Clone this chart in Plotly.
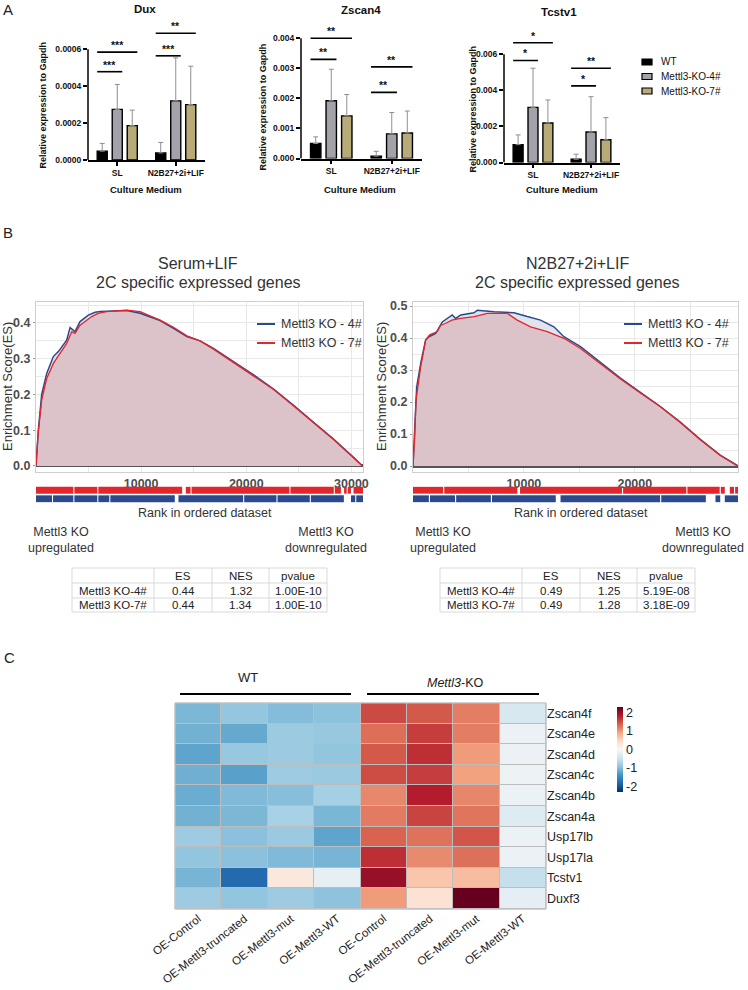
import plotly.graph_objects as go

W, H = 748, 990
FONT = "Liberation Sans, Arial, Helvetica, sans-serif"


def fx(p):
    return p / W


def fy(p):
    return 1 - p / H


def axn(letter, i):
    return letter if i == 1 else f"{letter}{i}"


# ======================= Panel A data =======================
conditions = ["SL", "N2B27+2i+LIF"]
genotypes = ["WT", "Mettl3-KO-4#", "Mettl3-KO-7#"]
genotype_colors = ["#000000", "#a2a2a8", "#b8ab78"]

dux_wt = [0.000048, 0.000038]
dux_ko4 = [0.000274, 0.000320]
dux_ko7 = [0.000186, 0.000300]
dux_wt_sd = [0.000042, 0.000057]
dux_ko4_sd = [0.000135, 0.000233]
dux_ko7_sd = [0.000084, 0.000208]

zscan4_wt = [0.00050, 0.00008]
zscan4_ko4 = [0.00192, 0.00082]
zscan4_ko7 = [0.00142, 0.00085]
zscan4_wt_sd = [0.00022, 0.00016]
zscan4_ko4_sd = [0.00105, 0.00071]
zscan4_ko7_sd = [0.00071, 0.00073]

tcstv1_wt = [0.00099, 0.00018]
tcstv1_ko4 = [0.00306, 0.00169]
tcstv1_ko7 = [0.00219, 0.00126]
tcstv1_wt_sd = [0.00054, 0.00028]
tcstv1_ko4_sd = [0.00217, 0.00196]
tcstv1_ko7_sd = [0.00128, 0.00123]

# (condition index, compared genotype index, bracket height, label)
dux_sig = [(0, 1, 0.000478, "***"), (0, 2, 0.000584, "***"),
           (1, 1, 0.000564, "***"), (1, 2, 0.000686, "**")]
zscan4_sig = [(0, 1, 0.00330, "**"), (0, 2, 0.00400, "**"),
              (1, 1, 0.00220, "**"), (1, 2, 0.00305, "**")]
tcstv1_sig = [(0, 1, 0.00566, "*"), (0, 2, 0.00664, "*"),
              (1, 1, 0.00425, "*"), (1, 2, 0.00523, "**")]

dux_ticks = [0, 0.0002, 0.0004, 0.0006]
zscan4_ticks = [0, 0.001, 0.002, 0.003, 0.004]
tcstv1_ticks = [0, 0.002, 0.004, 0.006]

# ======================= Panel B data =======================
sl_rank_ko4 = [0, 220, 540, 1020, 1650, 2130, 2920, 3240, 3710, 4190, 4980, 5620, 6100, 7340, 8630,
               9900, 11800, 13080, 14350, 15600, 16880, 18780, 20700, 22600, 24500, 26400, 28300, 30200, 31050]
sl_es_ko4 = [0, 0.10, 0.20, 0.259, 0.306, 0.32, 0.352, 0.387, 0.376, 0.404, 0.422, 0.43, 0.432, 0.433, 0.435,
             0.427, 0.407, 0.385, 0.362, 0.35, 0.329, 0.292, 0.255, 0.215, 0.17, 0.122, 0.075, 0.024, 0]
sl_rank_ko7 = [0, 200, 540, 1020, 1650, 2300, 2920, 3400, 3710, 4190, 5300, 5900, 6700, 8630, 9900,
               11800, 13080, 14350, 15600, 16880, 18780, 20700, 22600, 24500, 26400, 28300, 30200, 31050]
sl_es_ko7 = [0, 0.09, 0.184, 0.245, 0.287, 0.315, 0.343, 0.376, 0.371, 0.394, 0.418, 0.427, 0.432, 0.436, 0.432,
             0.408, 0.388, 0.364, 0.350, 0.327, 0.290, 0.253, 0.214, 0.168, 0.121, 0.074, 0.023, 0]

n2_rank_ko4 = [0, 150, 330, 690, 1140, 1440, 2040, 2640, 3540, 3850, 4300, 5500, 5800, 7300, 9100, 10300,
               11500, 12700, 13600, 15100, 16900, 18700, 20500, 22300, 24100, 25900, 27700, 29300]
n2_es_ko4 = [0, 0.10, 0.247, 0.32, 0.394, 0.404, 0.414, 0.45, 0.472, 0.461, 0.472, 0.479, 0.487, 0.482, 0.479,
             0.467, 0.456, 0.435, 0.404, 0.373, 0.325, 0.275, 0.23, 0.186, 0.137, 0.083, 0.034, 0]
n2_rank_ko7 = [0, 150, 270, 690, 1140, 1500, 2190, 2500, 2950, 3500, 4300, 5500, 6700, 8500, 9400, 10600,
               12100, 13600, 15100, 16900, 18700, 20500, 22300, 24100, 25900, 27700, 29300]
n2_es_ko7 = [0, 0.09, 0.206, 0.31, 0.394, 0.41, 0.42, 0.44, 0.446, 0.456, 0.461, 0.467, 0.477, 0.477, 0.456,
             0.435, 0.42, 0.399, 0.367, 0.32, 0.272, 0.228, 0.185, 0.136, 0.082, 0.033, 0]

sl_n_genes = 31100
n2_n_genes = 29300
# rank intervals without hits (white gaps in the hit bars)
sl_gaps_ko7 = [(3550, 3650), (5830, 5930), (13900, 14250), (14700, 14800), (24100, 24200),
               (28320, 28420), (29000, 29300), (29550, 29650), (29950, 30200)]
sl_gaps_ko4 = [(1520, 1620), (3550, 3650), (5830, 5930), (6970, 7070), (13200, 13550), (19700, 19800),
               (22870, 22970), (26040, 26140), (29280, 29960), (30360, 30460)]
n2_gaps_ko7 = [(2720, 2820), (9400, 9650), (18840, 18940), (24640, 24740), (27650, 27750),
               (28110, 28560), (28940, 29040)]
n2_gaps_ko4 = [(1430, 1530), (3790, 3890), (7020, 7120), (12870, 13300), (22280, 22380),
               (26400, 27270), (27700, 28110)]

table_header = ["", "ES", "NES", "pvalue"]
table_rows = ["Mettl3 KO-4#", "Mettl3 KO-7#"]
sl_es = ["0.44", "0.44"]
sl_nes = ["1.32", "1.34"]
sl_pvalue = ["1.00E-10", "1.00E-10"]
n2_es = ["0.49", "0.49"]
n2_nes = ["1.25", "1.28"]
n2_pvalue = ["5.19E-08", "3.18E-09"]

# ======================= Panel C data =======================
heat_genes = ["Zscan4f", "Zscan4e", "Zscan4d", "Zscan4c", "Zscan4b", "Zscan4a",
              "Usp17lb", "Usp17la", "Tcstv1", "Duxf3"]
heat_samples = ["OE-Control", "OE-Mettl3-truncated", "OE-Mettl3-mut", "OE-Mettl3-WT",
                "OE-Control", "OE-Mettl3-truncated", "OE-Mettl3-mut", "OE-Mettl3-WT"]
heat_z = [
    [-1.05, -0.90, -1.00, -0.95, 1.52, 1.42, 1.18, -0.38],
    [-1.10, -1.18, -0.85, -0.88, 1.28, 1.60, 1.18, -0.15],
    [-1.22, -0.88, -0.85, -0.92, 1.42, 1.70, 0.98, -0.15],
    [-1.12, -1.25, -0.83, -0.86, 1.50, 1.60, 0.94, -0.12],
    [-1.15, -1.02, -0.98, -0.78, 1.12, 1.82, 1.13, -0.15],
    [-1.10, -1.05, -0.75, -1.06, 1.20, 1.56, 1.24, -0.30],
    [-0.83, -0.96, -0.86, -1.22, 1.35, 1.26, 1.45, -0.15],
    [-0.92, -0.96, -1.02, -1.08, 1.70, 1.10, 1.27, -0.15],
    [-1.07, -1.80, 0.25, -0.20, 2.00, 0.65, 0.72, -0.55],
    [-0.83, -0.92, -0.83, -0.94, 0.98, 0.35, 2.30, -0.22],
]
heat_ticks = [-2, -1, 0, 1, 2]

# ======================= Build figure =======================
fig = go.Figure()
layout = dict(template="none", width=W, height=H, margin=dict(l=0, r=0, t=0, b=0, autoexpand=False),
              paper_bgcolor="white", plot_bgcolor="white", showlegend=False, barmode="group",
              bargap=0.23, bargroupgap=0.33, font=dict(family=FONT, color="#111"))
shapes, annotations = [], []


def ptext(x, y, text, size, color="#222", weight="normal", xanchor="center", angle=0, align="center"):
    annotations.append(dict(x=fx(x), y=fy(y), xref="paper", yref="paper", text=text, showarrow=False,
                            xanchor=xanchor, yanchor="middle", textangle=angle, align=align,
                            font=dict(size=size, family=FONT, color=color, weight=weight)))


BARGAP, BGG = 0.23, 0.33
gw = 1 - BARGAP
slot = gw / 3


def bar_left(k):
    return -gw / 2 + slot * k + slot * BGG / 2


def bar_right(k):
    return -gw / 2 + slot * (k + 1) - slot * BGG / 2


panels_a = [
    dict(title="Dux", means=[dux_wt, dux_ko4, dux_ko7], sds=[dux_wt_sd, dux_ko4_sd, dux_ko7_sd],
         sig=dux_sig, ticks=dux_ticks, fmt=".4f", ymax=0.00072, xd=(88, 205), yd=(27, 160),
         ytitle_x=43, title_x=145, title_y=9, xtitle_x=146),
    dict(title="Zscan4", means=[zscan4_wt, zscan4_ko4, zscan4_ko7], sds=[zscan4_wt_sd, zscan4_ko4_sd, zscan4_ko7_sd],
         sig=zscan4_sig, ticks=zscan4_ticks, fmt=".3f", ymax=0.0042, xd=(301, 422), yd=(32.3, 158.5),
         ytitle_x=263, title_x=361, title_y=10, xtitle_x=360),
    dict(title="Tcstv1", means=[tcstv1_wt, tcstv1_ko4, tcstv1_ko7], sds=[tcstv1_wt_sd, tcstv1_ko4_sd, tcstv1_ko7_sd],
         sig=tcstv1_sig, ticks=tcstv1_ticks, fmt=".3f", ymax=0.0072, xd=(504, 620), yd=(32.7, 162.5),
         ytitle_x=473, title_x=559, title_y=12, xtitle_x=562),
]

bold = dict(family=FONT, weight="bold", color="#111")
for i, p in enumerate(panels_a):
    ax = i + 1
    xs, ys = axn("x", ax), axn("y", ax)
    for k in range(3):
        fig.add_trace(go.Bar(
            x=[0, 1], y=p["means"][k], name=genotypes[k], offsetgroup=str(k),
            marker=dict(color=genotype_colors[k], line=dict(color="black", width=1.4)),
            error_y=dict(type="data", symmetric=False, array=p["sds"][k], arrayminus=[0, 0],
                         color="#8f8f8f", thickness=1, width=2.5),
            xaxis=xs, yaxis=ys, showlegend=False))
    layout[axn("xaxis", ax)] = dict(domain=[fx(p["xd"][0]), fx(p["xd"][1])], range=[-0.5, 1.5], anchor=ys,
                                    tickvals=[0, 1], ticktext=conditions, showline=True, linecolor="black",
                                    linewidth=1.5, ticks="outside", ticklen=4, tickwidth=1.5, tickcolor="black",
                                    tickfont=dict(size=8.5, **bold), showgrid=False, zeroline=False,
                                    automargin=False)
    layout[axn("yaxis", ax)] = dict(domain=[fy(p["yd"][1]), fy(p["yd"][0])], range=[0, p["ymax"]], anchor=xs,
                                    tickvals=p["ticks"], tickformat=p["fmt"], ticks="outside", ticklen=4,
                                    tickwidth=1.5, tickcolor="black", showline=False, showgrid=False,
                                    zeroline=False, tickfont=dict(size=8.5, **bold), automargin=False)
    shapes.append(dict(type="line", xref=f"{xs} domain", yref=ys, x0=0, x1=0, y0=0, y1=p["ticks"][-1],
                       line=dict(color="black", width=1.5)))
    for (c, k, lvl, lab) in p["sig"]:
        x0, x1 = c + bar_left(0), c + bar_right(k)
        shapes.append(dict(type="line", xref=xs, yref=ys, x0=x0, x1=x1, y0=lvl, y1=lvl,
                           line=dict(color="black", width=1.6)))
        annotations.append(dict(x=(x0 + x1) / 2, y=lvl, xref=xs, yref=ys, text=lab, showarrow=False,
                                xanchor="center", yanchor="bottom", yshift=-1, font=dict(size=10.5, **bold)))
    ptext(p["title_x"], p["title_y"], p["title"], 11.5, "#111", "bold")
    ptext(p["ytitle_x"], (p["yd"][0] + p["yd"][1]) / 2 + 12, "Relative expression to Gapdh", 9, "#111", "bold",
          angle=-90)
    ptext(p["xtitle_x"], 189, "Culture Medium", 9.5, "#111", "bold")

# custom legend for panel A
for k, g in enumerate(genotypes):
    yc = 62 + 14.5 * k
    shapes.append(dict(type="rect", xref="paper", yref="paper", x0=fx(642), x1=fx(652), y0=fy(yc - 3),
                       y1=fy(yc + 3), fillcolor=genotype_colors[k], line=dict(color="black", width=1.2)))
    ptext(659, yc, g, 10, "#111", xanchor="left")

# ---------------- Panel B ----------------
blue, red = "#2a4a8c", "#e4262c"
grey_txt = "#333333"
gsea = [
    dict(t1="Serum+LIF", rk4=sl_rank_ko4, es4=sl_es_ko4, rk7=sl_rank_ko7, es7=sl_es_ko7, n=sl_n_genes,
         g7=sl_gaps_ko7, g4=sl_gaps_ko4, xd=(36, 363), yrange=[-0.0168, 0.4587], cx=198, xt=[10000, 20000, 30000],
         yt=[0, 0.1, 0.2, 0.3, 0.4], ytx=8, leg_x=257, up_x=61, down_x=326, tab=[72, 154, 212, 269, 327],
         tab_vals=[sl_es, sl_nes, sl_pvalue]),
    dict(t1="N2B27+2i+LIF", rk4=n2_rank_ko4, es4=n2_es_ko4, rk7=n2_rank_ko7, es7=n2_es_ko7, n=n2_n_genes,
         g7=n2_gaps_ko7, g4=n2_gaps_ko4, xd=(413, 738), yrange=[-0.01875, 0.5125], cx=577, xt=[10000, 20000],
         yt=[0, 0.1, 0.2, 0.3, 0.4, 0.5], ytx=382, leg_x=624, up_x=443, down_x=703, tab=[440, 522, 580, 637, 695],
         tab_vals=[n2_es, n2_nes, n2_pvalue]),
]
table_y = [568, 583, 598, 612]


def hit_segments(gaps, n):
    segs, start = [], 0
    for a, b in sorted(gaps):
        segs.append((start, a))
        start = b
    segs.append((start, n))
    return segs


for j, g in enumerate(gsea):
    axc, axr = 4 + 2 * j, 5 + 2 * j
    xs, ys, xr, yr = f"x{axc}", f"y{axc}", f"x{axr}", f"y{axr}"
    fig.add_trace(go.Scatter(x=g["rk4"], y=g["es4"], mode="lines", line=dict(width=0), fill="tozeroy",
                             fillcolor="#dfe4ee", xaxis=xs, yaxis=ys, hoverinfo="skip"))
    fig.add_trace(go.Scatter(x=g["rk7"], y=g["es7"], mode="lines", line=dict(width=0), fill="tozeroy",
                             fillcolor="#dbc3c9", xaxis=xs, yaxis=ys, hoverinfo="skip"))
    fig.add_trace(go.Scatter(x=g["rk4"], y=g["es4"], mode="lines", line=dict(color=blue, width=1.5),
                             name="Mettl3 KO - 4#", xaxis=xs, yaxis=ys))
    fig.add_trace(go.Scatter(x=g["rk7"], y=g["es7"], mode="lines", line=dict(color=red, width=1.3),
                             name="Mettl3 KO - 7#", xaxis=xs, yaxis=ys))
    s7 = hit_segments(g["g7"], g["n"])
    s4 = hit_segments(g["g4"], g["n"])
    segs = s7 + s4
    fig.add_trace(go.Bar(orientation="h", y=[1] * len(s7) + [0] * len(s4), base=[a for a, b in segs],
                         x=[b - a for a, b in segs], width=0.8,
                         marker=dict(color=[red] * len(s7) + [blue] * len(s4), line=dict(width=0)),
                         xaxis=xr, yaxis=yr, hoverinfo="skip"))
    layout[f"xaxis{axc}"] = dict(domain=[fx(g["xd"][0]), fx(g["xd"][1])], range=[0, g["n"]], anchor=ys,
                                 tickvals=g["xt"], ticktext=[str(v) for v in g["xt"]], showgrid=True,
                                 gridcolor="#e9e9e9", minor=dict(dtick=5000, tick0=0, showgrid=True,
                                                                 gridcolor="#e9e9e9"),
                                 showline=True, mirror=True, linecolor="#cfcfcf", linewidth=1, zeroline=False,
                                 ticks="", automargin=False,
                                 tickfont=dict(size=12.5, family=FONT, weight="bold", color="#4d4d4d"))
    layout[f"yaxis{axc}"] = dict(domain=[fy(472), fy(302)], range=g["yrange"], anchor=xs, tickvals=g["yt"],
                                 tickformat=".1f", showgrid=True, gridcolor="#e9e9e9",
                                 minor=dict(dtick=0.05, tick0=0, showgrid=True, gridcolor="#e9e9e9"),
                                 showline=True, mirror=True, linecolor="#cfcfcf", linewidth=1, zeroline=True,
                                 zerolinecolor="#555555", zerolinewidth=2.5, ticks="outside", ticklen=2,
                                 tickcolor="#999", automargin=False,
                                 tickfont=dict(size=12.5, family=FONT, weight="bold", color="#4d4d4d"))
    layout[f"xaxis{axr}"] = dict(domain=[fx(g["xd"][0]), fx(g["xd"][1])], range=[0, g["n"]], anchor=yr,
                                 visible=False, automargin=False)
    layout[f"yaxis{axr}"] = dict(domain=[fy(503), fy(486)], range=[-0.5, 1.5], anchor=xr, visible=False,
                                 automargin=False)

    ptext(g["cx"], 263, g["t1"], 16, grey_txt)
    ptext(g["cx"], 283, "2C specific expressed genes", 16, grey_txt)
    ptext(g["ytx"], 387, "Enrichment Score(ES)", 13, grey_txt, angle=-90)
    for k, (nm, col) in enumerate([("Mettl3 KO - 4#", blue), ("Mettl3 KO - 7#", red)]):
        yy = 324 + 19 * k
        shapes.append(dict(type="line", xref="paper", yref="paper", x0=fx(g["leg_x"]), x1=fx(g["leg_x"] + 18),
                           y0=fy(yy), y1=fy(yy), line=dict(color=col, width=2)))
        ptext(g["leg_x"] + 22, yy, nm, 12.5, grey_txt, xanchor="left")
    ptext((g["xd"][0] + g["xd"][1]) / 2 + 5, 513, "Rank in ordered dataset", 12.5, grey_txt)
    ptext(g["up_x"], 540, "Mettl3 KO<br>upregulated", 12.5, grey_txt)
    ptext(g["down_x"], 540, "Mettl3 KO<br>downregulated", 12.5, grey_txt)

    # statistics table (grid + text)
    cx_edges = g["tab"]
    for yv in table_y:
        shapes.append(dict(type="line", xref="paper", yref="paper", x0=fx(cx_edges[0]), x1=fx(cx_edges[-1]),
                           y0=fy(yv), y1=fy(yv), line=dict(color="#d9d9d9", width=1)))
    for xv in cx_edges:
        shapes.append(dict(type="line", xref="paper", yref="paper", x0=fx(xv), x1=fx(xv),
                           y0=fy(table_y[0]), y1=fy(table_y[-1]), line=dict(color="#d9d9d9", width=1)))
    columns = [[table_header[c]] + ([table_rows] + g["tab_vals"])[c] for c in range(4)]
    for c, col in enumerate(columns):
        xc = (cx_edges[c] + cx_edges[c + 1]) / 2
        for r, txt in enumerate(col):
            if txt:
                ptext(xc, (table_y[r] + table_y[r + 1]) / 2, txt, 11.5, "#222")

# ---------------- Panel C ----------------
rdbu = [[0.0, "#053061"], [0.1, "#2166ac"], [0.2, "#4393c3"], [0.3, "#92c5de"], [0.4, "#d1e5f0"],
        [0.5, "#f7f7f7"], [0.6, "#fddbc7"], [0.7, "#f4a582"], [0.8, "#d6604d"], [0.9, "#b2182b"],
        [1.0, "#67001f"]]
fig.add_trace(go.Heatmap(z=heat_z, x=list(range(len(heat_samples))), y=heat_genes, colorscale=rdbu,
                         zmin=-2.3, zmax=2.3, xgap=1, ygap=1, xaxis="x8", yaxis="y8",
                         colorbar=dict(x=fx(617), xanchor="left", y=fy(707), yanchor="top", len=85,
                                       lenmode="pixels", thickness=6, xpad=0, ypad=0, outlinewidth=0,
                                       tickvals=heat_ticks, ticktext=[str(v) for v in heat_ticks], ticks="",
                                       tickfont=dict(size=12.5, family=FONT, color="#222"))))
layout["xaxis8"] = dict(domain=[fx(175), fx(546)], range=[-0.5, 7.5], anchor="y8",
                        tickvals=list(range(len(heat_samples))), ticktext=heat_samples, tickangle=-38,
                        showgrid=False, zeroline=False, showline=False, ticks="", automargin=False,
                        tickfont=dict(size=11.5, family=FONT, color="#222"))
layout["yaxis8"] = dict(domain=[fy(909), fy(703)], autorange="reversed", anchor="x8", side="right",
                        showgrid=False, zeroline=False, showline=False, ticks="", automargin=False,
                        tickfont=dict(size=12.5, family=FONT, color="#222"))
shapes.append(dict(type="rect", xref="x8 domain", yref="y8 domain", x0=0, x1=1, y0=0, y1=1,
                   fillcolor="#bdbdbd", line=dict(color="#bdbdbd", width=1), layer="below"))
shapes.append(dict(type="rect", xref="x8 domain", yref="y8 domain", x0=0, x1=1, y0=0, y1=1,
                   fillcolor="rgba(0,0,0,0)", line=dict(color="#c4c4c4", width=1), layer="above"))
shapes.append(dict(type="line", xref="paper", yref="paper", x0=fx(180), x1=fx(351), y0=fy(694), y1=fy(694),
                   line=dict(color="black", width=2)))
shapes.append(dict(type="line", xref="paper", yref="paper", x0=fx(367), x1=fx(539), y0=fy(694), y1=fy(694),
                   line=dict(color="black", width=2)))
ptext(248, 677, "WT", 13, "#222")
ptext(455, 683, "<i>Mettl3</i>-KO", 12.5, "#222")

# panel letters
for lab, (x, y) in zip(["A", "B", "C"], [(8, 10), (8, 233), (9, 657)]):
    ptext(x, y, lab, 15, "#222")

layout["shapes"] = shapes
layout["annotations"] = annotations
fig.update_layout(**layout)
fig.write_html("out.html")
